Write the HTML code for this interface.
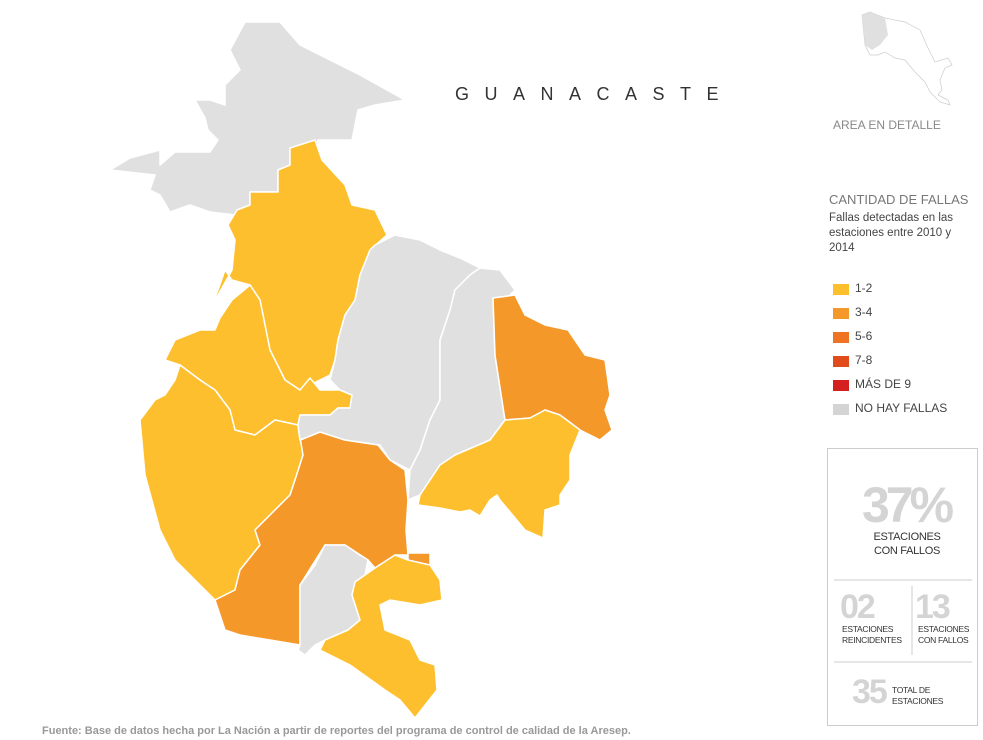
<!DOCTYPE html>
<html><head><meta charset="utf-8"><style>
body{margin:0;width:983px;height:740px;background:#fff;font-family:"Liberation Sans",sans-serif;overflow:hidden;position:relative}
.t{position:absolute;white-space:nowrap}
.sw{position:absolute;left:833px;width:16px;height:11px}
.lg{position:absolute;left:855px;font-size:12px;color:#444}
</style></head><body>
<svg width="983" height="740" style="position:absolute;left:0;top:0">
<g stroke="#fff" stroke-width="1.5" stroke-linejoin="round">
<polygon fill="#e0e0e0" points="245,22 280,22 300,45 330,60 360,75 405,100 375,105 358,110 352,140 318,140 315,150 290,148 290,165 278,170 278,192 250,192 250,205 237,210 235,215 210,212 190,205 170,212 160,195 150,190 155,175 110,170 130,158 160,150 160,165 175,152 210,152 218,140 208,130 205,118 195,100 210,100 225,105 225,85 240,70 230,50"/>
<polygon fill="#fdbf2d" points="290,148 315,140 322,160 345,185 352,205 375,210 387,235 370,250 360,275 355,300 345,315 338,340 335,360 330,375 320,380 310,385 300,390 285,380 270,350 260,300 250,285 232,280 225,270 218,290 212,306 232,270 235,240 228,225 237,210 250,205 250,192 278,192 278,170 290,165"/>
<polygon fill="#fdbf2d" points="232,300 250,285 260,300 270,350 285,380 300,390 310,378 320,390 340,390 352,395 350,408 338,408 330,415 300,415 298,425 275,420 255,435 235,430 230,410 215,390 200,380 180,365 165,360 175,340 200,330 215,330 220,318"/>
<polygon fill="#fdbf2d" points="180,365 200,380 215,390 230,410 235,430 255,435 275,420 298,425 303,455 295,480 290,495 275,510 255,530 260,545 240,570 235,590 215,600 195,580 175,560 160,530 145,475 140,420 155,400 165,395 175,380"/>
<polygon fill="#f5982a" points="298,425 300,440 320,432 345,440 378,445 390,460 405,470 408,500 406,530 408,555 395,555 375,568 368,560 345,545 325,545 300,585 300,645 270,640 240,635 225,630 215,600 235,590 240,570 260,545 255,530 275,510 290,495 295,480 303,455"/>
<polygon fill="#f5982a" points="408,553 430,553 430,565 408,565"/>
<polygon fill="#e0e0e0" points="375,245 395,235 420,240 440,250 460,258 480,268 470,275 455,290 450,310 440,340 440,400 430,420 420,450 410,470 390,460 380,445 345,440 320,432 300,440 298,425 300,415 330,415 338,408 350,408 352,395 340,390 330,380 335,360 338,340 345,315 355,300 360,275 370,250"/>
<polygon fill="#e0e0e0" points="480,268 500,270 515,290 505,300 493,298 495,355 505,420 490,440 455,455 440,465 420,495 408,500 410,470 420,450 430,420 440,400 440,340 450,310 455,290 470,275"/>
<polygon fill="#f5982a" points="493,298 515,295 525,315 545,325 568,330 585,355 605,360 610,395 605,410 612,430 600,440 580,430 560,415 545,410 530,418 505,420 495,355"/>
<polygon fill="#fdbf2d" points="505,420 530,418 545,410 560,415 580,430 570,455 570,480 560,495 560,505 545,510 543,538 525,530 500,500 497,495 490,500 480,516 470,510 460,512 440,508 418,505 420,495 440,465 455,455 490,440"/>
<polygon fill="#e0e0e0" points="325,545 345,545 360,555 368,560 365,575 355,582 352,595 360,620 348,630 325,640 315,645 305,655 298,650 300,645 300,585 315,565"/>
<polygon fill="#fdbf2d" points="375,568 395,555 408,560 430,565 440,580 442,600 420,605 390,600 380,605 385,630 410,640 420,660 435,665 437,690 415,718 400,700 385,690 350,665 320,650 325,640 348,630 360,620 352,595 355,582 365,575"/>
</g>
<g stroke="#ccc" stroke-width="0.7" fill="none">
<path d="M862,15 L870,12 L885,18 L905,22 L920,30 L928,48 L935,62 L948,58 L952,65 L945,68 L940,80 L942,90 L938,95 L948,100 L950,105 L940,102 L930,92 L925,82 L915,72 L905,60 L895,58 L885,52 L878,55 L870,55 L865,45 Z"/>
</g>
<path d="M862,15 L870,12 L885,18 L888,35 L880,45 L872,50 L865,45 Z" fill="#e0e0e0"/>
<rect x="827.5" y="448.5" width="150" height="277" fill="none" stroke="#ccc"/>
<line x1="834" y1="580" x2="972" y2="580" stroke="#ccc"/>
<line x1="834" y1="662" x2="972" y2="662" stroke="#ccc"/>
<line x1="912" y1="586" x2="912" y2="655" stroke="#ccc"/>
</svg>
<div class="t" style="left:455px;top:84px;font-size:18px;letter-spacing:15.5px;color:#333">GUANACASTE</div>
<div class="t" style="left:833px;top:118px;font-size:12px;color:#888">AREA EN DETALLE</div>
<div class="t" style="left:829px;top:192px;font-size:13px;color:#777">CANTIDAD DE FALLAS</div>
<div class="t" style="left:829px;top:211px;font-size:11.5px;color:#444;line-height:15px">Fallas detectadas en las<br>estaciones entre 2010 y<br>2014</div>
<div class="sw" style="top:284px;background:#fdbf2d"></div><div class="lg" style="top:281px">1-2</div>
<div class="sw" style="top:308px;background:#f5982a"></div><div class="lg" style="top:305px">3-4</div>
<div class="sw" style="top:332px;background:#ee7424"></div><div class="lg" style="top:329px">5-6</div>
<div class="sw" style="top:356px;background:#e04c1c"></div><div class="lg" style="top:353px">7-8</div>
<div class="sw" style="top:380px;background:#d42020"></div><div class="lg" style="top:377px">MÁS DE 9</div>
<div class="sw" style="top:404px;background:#d4d4d4"></div><div class="lg" style="top:401px">NO HAY FALLAS</div>
<div class="t" style="left:862px;top:476px;font-size:50px;font-weight:bold;color:#d4d4d4;letter-spacing:-4px">37%</div>
<div class="t" style="left:827px;width:160px;text-align:center;top:530px;font-size:11px;color:#333;line-height:14px;letter-spacing:-0.3px">ESTACIONES<br>CON FALLOS</div>
<div class="t" style="left:840px;top:588px;font-size:34px;font-weight:bold;color:#d4d4d4;letter-spacing:-2px">02</div>
<div class="t" style="left:842px;top:624px;font-size:8.5px;color:#333;line-height:11px;letter-spacing:-0.3px">ESTACIONES<br>REINCIDENTES</div>
<div class="t" style="left:915px;top:588px;font-size:34px;font-weight:bold;color:#d4d4d4;letter-spacing:-2px">13</div>
<div class="t" style="left:918px;top:624px;font-size:8.5px;color:#333;line-height:11px;letter-spacing:-0.3px">ESTACIONES<br>CON FALLOS</div>
<div class="t" style="left:852px;top:673px;font-size:34px;font-weight:bold;color:#d4d4d4;letter-spacing:-2px">35</div>
<div class="t" style="left:892px;top:685px;font-size:8.5px;color:#333;line-height:11px;letter-spacing:-0.3px">TOTAL DE<br>ESTACIONES</div>
<div class="t" style="left:42px;top:725px;font-size:11px;font-weight:bold;color:#999">Fuente: Base de datos hecha por La Nación a partir de reportes del programa de control de calidad de la Aresep.</div>
</body></html>
